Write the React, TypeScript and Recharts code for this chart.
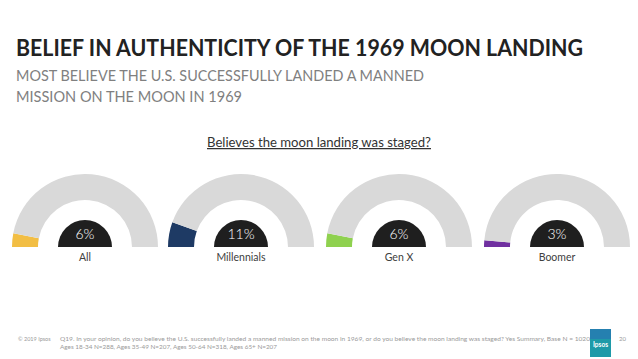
import React from 'react';
import { PieChart, Pie, Cell, Label } from 'recharts';

// Share of each group who believe the landing was staged
const groups = ['All', 'Millennials', 'Gen X', 'Boomer'];
const stagedPct = [6, 11, 6, 3];
const groupColors = ['#F2BE44', '#1E3A64', '#8FD14F', '#7030A0'];

const W = 638;
const H = 359;
const gaugeCx = [80, 236, 394, 552];
const gaugeCy = 242;
const FONT = 'Lato, "Open Sans", sans-serif';

const App: React.FC = () => {
  return (
    <div style={{ position: 'absolute', left: 0, top: 0, width: W, height: H, background: '#fff', fontFamily: FONT }}>
      <svg width={W} height={H} style={{ position: 'absolute', left: 0, top: 0 }}>
        <text x={16} y={56} fontSize={23} fontWeight={700} fill="#222" textLength={567} lengthAdjust="spacingAndGlyphs">
          BELIEF IN AUTHENTICITY OF THE 1969 MOON LANDING
        </text>
        <text x={16} y={81} fontSize={14.5} fill="#808080" textLength={408} lengthAdjust="spacingAndGlyphs">
          MOST BELIEVE THE U.S. SUCCESSFULLY LANDED A MANNED
        </text>
        <text x={16} y={102} fontSize={14.5} fill="#808080" textLength={226} lengthAdjust="spacingAndGlyphs">
          MISSION ON THE MOON IN 1969
        </text>
        <text x={207} y={147} fontSize={12.5} fill="#333" textDecoration="underline" textLength={224} lengthAdjust="spacingAndGlyphs">
          Believes the moon landing was staged?
        </text>
        <text x={18} y={341} fontSize={5.5} fill="#9a9a9a">© 2019 Ipsos</text>
        <text x={60} y={341} fontSize={5.5} fill="#9a9a9a" textLength={530} lengthAdjust="spacingAndGlyphs">
          Q19. In your opinion, do you believe the U.S. successfully landed a manned mission on the moon in 1969, or do you believe the moon landing was staged? Yes Summary, Base N = 1020
        </text>
        <text x={60} y={349} fontSize={5.5} fill="#9a9a9a" textLength={217} lengthAdjust="spacingAndGlyphs">
          Ages 18-34 N=288, Ages 35-49 N=207, Ages 50-64 N=318, Ages 65+ N=207
        </text>
        <rect x={590} y={329} width={21} height={28} fill="#1E9AA8" />
        <rect x={590} y={329} width={21} height={10} fill="#2A6FB5" opacity={0.6} />
        <text x={600.5} y={347} fontSize={6.5} fill="#fff" textAnchor="middle" fontWeight={700}>Ipsos</text>
        <text x={619} y={341} fontSize={6} fill="#9a9a9a">20</text>
      </svg>
      <div style={{ position: 'absolute', left: 0, top: 0 }}>
        <PieChart width={W} height={H}>
          {groups.map((g, i) => (
            <Pie
              key={`ring-${g}`}
              data={[
                { name: 'Staged', value: stagedPct[i] },
                { name: 'Real', value: 100 - stagedPct[i] },
              ]}
              dataKey="value"
              cx={gaugeCx[i]}
              cy={gaugeCy}
              startAngle={180}
              endAngle={0}
              innerRadius={47}
              outerRadius={73}
              stroke="none"
              isAnimationActive={false}
            >
              <Cell fill={groupColors[i]} />
              <Cell fill="#D9D9D9" />
            </Pie>
          ))}
          {groups.map((g, i) => (
            <Pie
              key={`hub-${g}`}
              data={[{ name: g, value: stagedPct[i] }]}
              dataKey="value"
              cx={gaugeCx[i]}
              cy={gaugeCy}
              startAngle={180}
              endAngle={0}
              innerRadius={0}
              outerRadius={27}
              fill="#1F1F1F"
              stroke="none"
              isAnimationActive={false}
            >
              <Label
                content={(props: any) => {
                  const vb = props.viewBox || {};
                  return (
                    <g>
                      <text x={vb.cx} y={vb.cy - 8} textAnchor="middle" fontSize={14} fontWeight={300} fill="#fff" fontFamily={FONT}>
                        {`${stagedPct[i]}%`}
                      </text>
                      <text x={vb.cx} y={vb.cy + 14} textAnchor="middle" fontSize={10.5} fill="#404040" fontFamily={FONT}>
                        {g}
                      </text>
                    </g>
                  );
                }}
              />
            </Pie>
          ))}
        </PieChart>
      </div>
    </div>
  );
};

export default App;
